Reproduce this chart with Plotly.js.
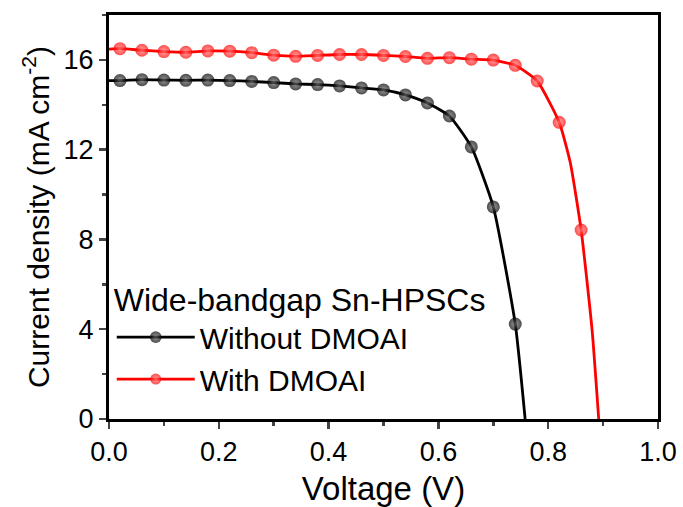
<!DOCTYPE html>
<html>
<head>
<meta charset="utf-8">
<script src="https://cdn.plot.ly/plotly-3.0.1.min.js"></script>
<style>html,body{margin:0;padding:0;background:#fff;}#chart{width:683px;height:507px;}</style>
</head>
<body>
<div id="chart"></div>
<script>
// Voltage (V) at marker points
const voltage = [0.02,0.06,0.10,0.14,0.18,0.22,0.26,0.30,0.34,0.38,0.42,0.46,0.50,0.54,0.58,0.62,0.66,0.70,0.74,0.78,0.82,0.86];
// Without DMOAI (mA cm^-2)
const withoutJ = [15.08,15.12,15.10,15.09,15.10,15.08,15.04,14.99,14.93,14.90,14.84,14.75,14.66,14.44,14.08,13.50,12.12,9.45,4.23];
const withoutStart = [0.0, 15.08];
const withoutVoc = 0.758;
// With DMOAI (mA cm^-2)
const withJ = [16.50,16.43,16.37,16.34,16.40,16.39,16.32,16.21,16.16,16.20,16.24,16.24,16.20,16.15,16.07,16.10,16.03,15.99,15.76,15.06,13.22,8.42];
const withStart = [0.0, 16.48];
const withKinks = [[0.84, 11.45],[0.88, 3.95]];
const withVoc = 0.892;

function build(start, J, extra, voc){
  let pts = [{x:start[0], y:start[1], s:0}];
  for(let i=0;i<J.length;i++){ pts.push({x:voltage[i], y:J[i], s:13}); }
  extra.forEach(p=>pts.push({x:p[0],y:p[1],s:0}));
  pts.push({x:voc,y:0,s:0});
  pts.sort((a,b)=>a.x-b.x);
  return {x:pts.map(p=>p.x), y:pts.map(p=>p.y), s:pts.map(p=>p.s)};
}
const a = build(withoutStart, withoutJ, [], withoutVoc);
const b = build(withStart, withJ, withKinks, withVoc);

const traces = [
  {x:a.x, y:a.y, mode:'lines+markers', name:'Without DMOAI',
   line:{color:'#000000', width:2.8, shape:'spline', smoothing:0.5},
   marker:{size:a.s, color:'#000000', gradient:{type:'radial', color:'#707070'}, line:{width:0}}},
  {x:b.x, y:b.y, mode:'lines+markers', name:'With DMOAI',
   line:{color:'#ff0000', width:2.8, shape:'spline', smoothing:0.5},
   marker:{size:b.s, color:'#ff0000', gradient:{type:'radial', color:'#ff8080'}, line:{width:0}}}
];

const font = "'Liberation Sans', Arial, sans-serif";
const layout = {
  width:683, height:507,
  margin:{l:109, r:25, t:15, b:88, pad:0},
  paper_bgcolor:'#ffffff', plot_bgcolor:'#ffffff',
  font:{family:font, color:'#000000', size:22},
  showlegend:true,
  legend:{x:0.005, y:0.37, xanchor:'left', yanchor:'top', bgcolor:'rgba(0,0,0,0)',
    font:{family:font, size:30, color:'#000'}, itemwidth:78, tracegroupgap:0,
    title:{text:'Wide-bandgap Sn-HPSCs', font:{family:font, size:32, color:'#000'}}},
  xaxis:{range:[0,1.0], dtick:0.2, tickformat:'.1f', ticks:'outside', ticklen:7, tickwidth:2.5,
    showline:true, linewidth:3, linecolor:'#000', mirror:true, showgrid:false, zeroline:false,
    tickfont:{family:font, size:27}, minor:{dtick:0.1, ticks:'outside', ticklen:4, tickwidth:2.5},
    title:{text:'Voltage (V)', font:{family:font, size:33}, standoff:18}},
  yaxis:{range:[0,18], dtick:4, ticks:'outside', ticklen:7, tickwidth:2.5,
    showline:true, linewidth:3, linecolor:'#000', mirror:true, showgrid:false, zeroline:false,
    tickfont:{family:font, size:27}, minor:{dtick:2, ticks:'outside', ticklen:4, tickwidth:2.5},
    title:{text:'Current density (mA cm<sup>-2</sup>)', font:{family:font, size:30}, standoff:6}}
};
Plotly.newPlot('chart', traces, layout, {displayModeBar:false, staticPlot:true});
</script>
</body>
</html>
